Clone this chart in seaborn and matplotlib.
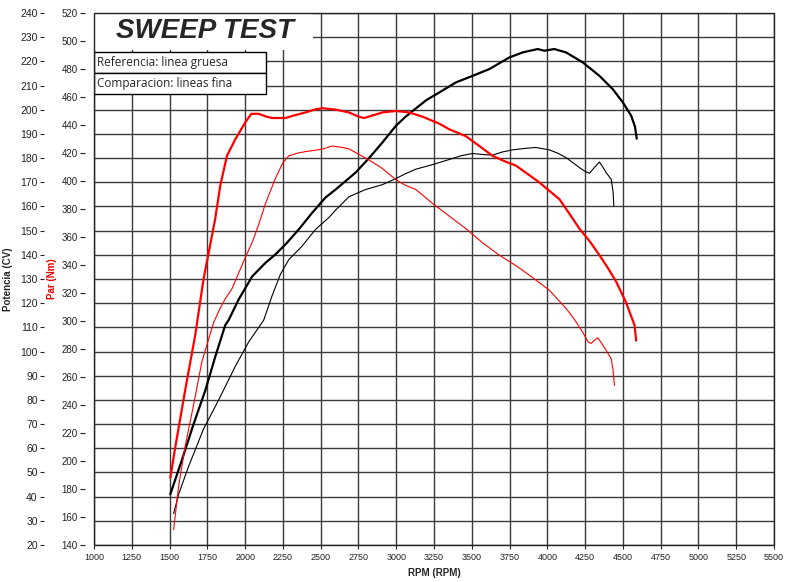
import numpy as np
import pandas as pd
import matplotlib
matplotlib.use("Agg")
import matplotlib.pyplot as plt
import seaborn as sns
from matplotlib.patches import Rectangle

# ---- datos ----
# Par (Nm) - referencia (linea gruesa)
rpm_par_ref = [1505, 1538, 1604, 1670, 1725, 1770, 1802, 1836, 1880, 1936, 1969, 2002,
               2041, 2090, 2140, 2179, 2267, 2330, 2400, 2460, 2510, 2599, 2687, 2750,
               2787, 2850, 2908, 2997, 3085, 3173, 3284, 3350, 3461, 3550, 3637, 3720,
               3792, 3870, 3947, 4013, 4080, 4150, 4212, 4280, 4345, 4400, 4456, 4522,
               4577, 4588]
par_ref = [188, 210, 251, 290, 330, 355, 373, 397, 418, 430, 436, 442,
           448, 448, 446, 445, 445, 447, 449, 451, 452, 451, 449, 446,
           445, 447, 449, 450, 449, 446, 441, 437, 432, 425, 418, 414,
           411, 405, 399, 393, 387, 376, 366, 357, 347, 338, 328, 313,
           297, 286]

# Par (Nm) - comparacion (linea fina)
rpm_par_cmp = [1527, 1560, 1604, 1659, 1714, 1792, 1830, 1869, 1913, 1960, 2000, 2050,
               2090, 2135, 2201, 2250, 2289, 2350, 2400, 2466, 2520, 2576, 2640, 2687,
               2753, 2820, 2908, 2997, 3060, 3129, 3240, 3350, 3461, 3570, 3682, 3800,
               3903, 4013, 4124, 4180, 4234, 4270, 4290, 4310, 4334, 4360, 4389, 4423,
               4435, 4444]
par_cmp = [151, 182, 211, 240, 271, 299, 308, 316, 323, 335, 345, 357,
           369, 384, 402, 413, 418, 420, 421, 422, 423, 425, 424, 423,
           419, 415, 409, 401, 397, 394, 384, 375, 366, 356, 347, 339,
           331, 322, 309, 301, 292, 285, 284, 286, 288, 284, 279, 273,
           265, 254]

# Potencia (CV) - referencia (linea gruesa)
rpm_cv_ref = [1505, 1581, 1659, 1737, 1803, 1869, 1891, 1957, 2046, 2135, 2201, 2267,
              2355, 2444, 2532, 2599, 2731, 2820, 2908, 2997, 3060, 3129, 3200, 3284,
              3395, 3505, 3616, 3748, 3837, 3936, 3980, 4046, 4124, 4234, 4345, 4433,
              4500, 4555, 4580, 4592]
cv_ref = [41, 55, 70, 84, 98, 111, 113, 121.5, 131, 136.7, 140.2, 144.3,
          150.5, 157.4, 163.7, 167, 174, 180, 186.4, 193.3, 197, 200.5, 204, 207.1,
          211.3, 214, 216.8, 221.6, 223.7, 225.1, 224.4, 225.1, 223.7, 219.6, 214, 208.5,
          203, 197.5, 193, 188]

# Potencia (CV) - comparacion (linea fina)
rpm_cv_cmp = [1527, 1560, 1626, 1725, 1825, 1936, 2024, 2123, 2178, 2234, 2289, 2377,
              2466, 2554, 2599, 2687, 2797, 2908, 2997, 3060, 3129, 3240, 3350, 3430,
              3505, 3570, 3637, 3700, 3770, 3850, 3925, 4013, 4070, 4124, 4212, 4250,
              4279, 4310, 4345, 4370, 4389, 4423, 4435, 4440]
cv_cmp = [33, 41, 52.5, 68, 80, 94, 104, 113, 123, 132, 138, 143.6,
          150.5, 155.4, 158.5, 164, 167, 169, 171.5, 173.5, 175.4, 177.3, 179.4, 181,
          181.9, 181.5, 181.2, 182.5, 183.4, 184, 184.4, 183.4, 182, 180.2, 176.1, 174.5,
          173.7, 176, 178.4, 176, 174, 171.2, 166, 160.2]

rpm_ticks = list(range(1000, 5501, 250))
cv_ticks = list(range(20, 241, 10))
par_ticks = list(range(140, 521, 20))

sns.set_style("white")
plt.rcParams["font.family"] = ["Liberation Sans", "DejaVu Sans"]

fig = plt.figure(figsize=(7.91, 5.82), dpi=100)
ax = fig.add_axes([94 / 791, 1 - 545 / 582, 680 / 791, 532 / 582])
ax2 = ax.twinx()

# potencia (negro)
sns.lineplot(x=rpm_cv_ref, y=cv_ref, ax=ax, color="black", linewidth=1.6,
             sort=False, estimator=None)
sns.lineplot(x=rpm_cv_cmp, y=cv_cmp, ax=ax, color="black", linewidth=0.8,
             sort=False, estimator=None)
# par (rojo)
sns.lineplot(x=rpm_par_ref, y=par_ref, ax=ax2, color="#ff0000", linewidth=1.6,
             sort=False, estimator=None)
sns.lineplot(x=rpm_par_cmp, y=par_cmp, ax=ax2, color="#ff0000", linewidth=0.8,
             sort=False, estimator=None)

ax.set_xlim(1000, 5500)
ax.set_ylim(20, 240)
ax2.set_ylim(140, 520)
ax.set_xticks(rpm_ticks)
ax.set_yticks(cv_ticks)
ax2.set_yticks(par_ticks)

ax.grid(True, color="#3a3a3a", linewidth=1.0)
ax2.grid(False)

for s in ax.spines.values():
    s.set_visible(False)
for s in ax2.spines.values():
    s.set_visible(False)
ax.spines["left"].set_position(("outward", 36))
ax2.spines["left"].set_position(("outward", 6.5))
ax2.yaxis.tick_left()
ax2.yaxis.set_label_position("left")

ax.tick_params(axis="y", left=True, length=3, width=0.8, pad=1.5,
               labelsize=7.5, labelcolor="#222222", color="#222222")
ax2.tick_params(axis="y", left=True, right=False, length=3.6, width=0.8, pad=1.5,
                labelsize=7.0, labelcolor="#222222", color="#222222")
ax.tick_params(axis="x", bottom=True, length=3, width=0.8, pad=3,
               labelsize=6.5, labelcolor="#222222", color="#222222")

ax.set_xlabel("RPM (RPM)", fontsize=7, fontweight="bold", labelpad=4)
ax.set_ylabel("Potencia (CV)", fontsize=7, fontweight="bold")
ax2.set_ylabel("Par (Nm)", fontsize=7, fontweight="bold", color="#e00000")
ax.yaxis.set_label_coords(-0.119, 0.5)
ax2.yaxis.set_label_coords(-0.054, 0.5)

# marco
ax2.add_patch(Rectangle((0, 0), 1, 1, transform=ax2.transAxes, fill=False,
                        edgecolor="#222222", linewidth=1.0, zorder=10, clip_on=False))

# cuadro del titulo y leyenda
ax2.add_patch(Rectangle((0, 0.930), 0.322, 0.070, transform=ax2.transAxes,
                        facecolor="white", edgecolor="none", zorder=8))
ax2.text(0.163, 0.966, "SWEEP TEST", transform=ax2.transAxes, ha="center", va="center",
         fontsize=20, fontweight="bold", fontstyle="italic", zorder=11)
ax2.add_patch(Rectangle((0, 0.887), 0.253, 0.040, transform=ax2.transAxes,
                        facecolor="white", edgecolor="black", linewidth=1.0, zorder=9))
ax2.add_patch(Rectangle((0, 0.848), 0.253, 0.039, transform=ax2.transAxes,
                        facecolor="white", edgecolor="black", linewidth=1.0, zorder=9))
ax2.text(0.005, 0.907, "Referencia: linea gruesa", transform=ax2.transAxes,
         ha="left", va="center", fontsize=8.5, family=["Open Sans", "DejaVu Sans"], zorder=11)
ax2.text(0.005, 0.8675, "Comparacion: lineas fina", transform=ax2.transAxes,
         ha="left", va="center", fontsize=8.5, family=["Open Sans", "DejaVu Sans"], zorder=11)

fig.savefig("out.png", dpi=100)
